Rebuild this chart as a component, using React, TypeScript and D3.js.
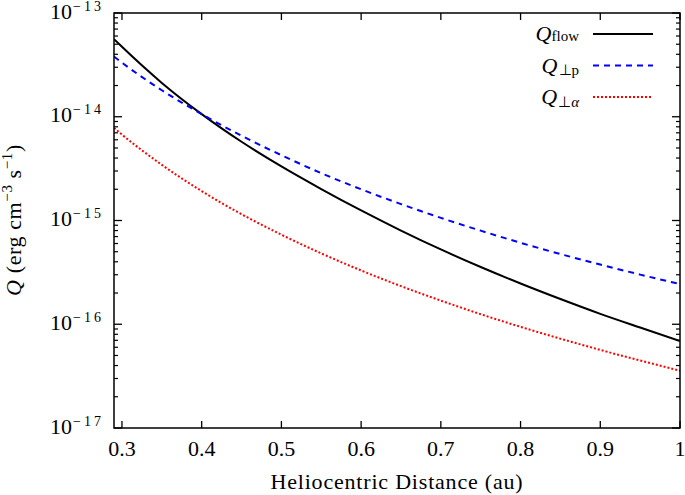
import React from "react";
import * as d3 from "d3";

const distances = [0.29, 0.3, 0.35, 0.4, 0.45, 0.5, 0.55, 0.6, 0.65, 0.7, 0.75, 0.8, 0.85, 0.9, 0.95, 1.0];
const qFlow = [5.6e-14, 4.72e-14, 2.12e-14, 1.06e-14, 5.74e-15, 3.32e-15, 2.01e-15, 1.25e-15, 8.0e-16, 5.26e-16, 3.56e-16, 2.47e-16, 1.75e-16, 1.26e-16, 9.3e-17, 6.9e-17];
const qPerpP = [3.8e-14, 3.32e-14, 1.8e-14, 1.06e-14, 6.56e-15, 4.26e-15, 2.86e-15, 2.0e-15, 1.44e-15, 1.06e-15, 7.98e-16, 6.1e-16, 4.75e-16, 3.76e-16, 3.01e-16, 2.44e-16];
const qPerpA = [7.8e-15, 6.73e-15, 3.44e-15, 1.92e-15, 1.15e-15, 7.3e-16, 4.82e-16, 3.3e-16, 2.33e-16, 1.69e-16, 1.25e-16, 9.44e-17, 7.26e-17, 5.66e-17, 4.47e-17, 3.57e-17];
const xTicks = [0.3, 0.4, 0.5, 0.6, 0.7, 0.8, 0.9, 1];
const yDecades = [-17, -16, -15, -14, -13];

const W = 685, H = 495;
const L = 114, R = 680, T = 13, B = 428;
const FONT = "'Liberation Serif', 'Times New Roman', serif";

export default function App() {
  const x = d3.scaleLinear().domain([0.29, 1]).range([L, R]);
  const y = d3.scaleLog().domain([1e-17, 1e-13]).range([B, T]);
  const mk = (vals: number[]) =>
    d3.line<number>().x((_, i) => x(distances[i])).y((v) => y(v)).curve(d3.curveMonotoneX)(vals) || "";

  const minor: number[] = [];
  for (let e = -17; e < -13; e++) for (let m = 2; m <= 9; m++) minor.push(m * Math.pow(10, e));

  const series = [
    { vals: qFlow, color: "#000000", dash: "none", sub: "flow", subIt: false, prefix: "" },
    { vals: qPerpP, color: "#0000ff", dash: "6,5", sub: "p", subIt: false, prefix: "⊥" },
    { vals: qPerpA, color: "#ff0000", dash: "2,2", sub: "α", subIt: true, prefix: "⊥" },
  ];

  return (
    <svg width={W} height={H} style={{ position: "absolute", left: 0, top: 0, background: "#fff" }} fontFamily={FONT}>
      <rect width={W} height={H} fill="#fff" />
      <defs>
        <clipPath id="plotclip">
          <rect x={L} y={T} width={R - L} height={B - T} />
        </clipPath>
      </defs>
      {xTicks.map((t) => (
        <g key={"x" + t}>
          <line x1={x(t)} x2={x(t)} y1={B} y2={B - 7} stroke="#000" strokeWidth={1.3} />
          <line x1={x(t)} x2={x(t)} y1={T} y2={T + 7} stroke="#000" strokeWidth={1.3} />
          <text x={x(t)} y={456} textAnchor="middle" fontSize={22}>{String(t)}</text>
        </g>
      ))}
      {yDecades.map((e) => {
        const v = Math.pow(10, e);
        return (
          <g key={"y" + e}>
            <line x1={L} x2={L + 8} y1={y(v)} y2={y(v)} stroke="#000" strokeWidth={1.3} />
            <line x1={R} x2={R - 8} y1={y(v)} y2={y(v)} stroke="#000" strokeWidth={1.3} />
            <text x={72} y={y(v) + 5.5} textAnchor="end" fontSize={22}>10</text>
            <text x={73} y={y(v) - 2.5} fontSize={14} textLength={28} lengthAdjust="spacing">{"−" + String(-e)}</text>
          </g>
        );
      })}
      {minor.map((v, i) => (
        <g key={"m" + i}>
          <line x1={L} x2={L + 4} y1={y(v)} y2={y(v)} stroke="#000" strokeWidth={1.2} />
          <line x1={R} x2={R - 4} y1={y(v)} y2={y(v)} stroke="#000" strokeWidth={1.2} />
        </g>
      ))}
      <g clipPath="url(#plotclip)">
        {series.map((s, i) => (
          <path key={i} d={mk(s.vals)} fill="none" stroke={s.color} strokeWidth={2} strokeDasharray={s.dash} />
        ))}
      </g>
      <rect x={L} y={T} width={R - L} height={B - T} fill="none" stroke="#000" strokeWidth={1.5} />
      {series.map((s, i) => {
        const ly = 34 + i * 31.5;
        return (
          <g key={"lg" + i}>
            <text x={579} y={ly + 7} textAnchor="end" fontSize={22}>
              <tspan fontStyle="italic">Q</tspan>
              <tspan fontSize={15} dx={1} dy={2.5}>{s.prefix}</tspan>
              <tspan fontSize={15} fontStyle={s.subIt ? "italic" : "normal"}>{s.sub}</tspan>
            </text>
            <line x1={593} x2={653} y1={ly} y2={ly} stroke={s.color} strokeWidth={2} strokeDasharray={s.dash} />
          </g>
        );
      })}
      <text x={(L + R) / 2} y={489} textAnchor="middle" fontSize={22} letterSpacing={0.8}>Heliocentric Distance (au)</text>
      <text transform={`translate(21, 220) rotate(-90)`} textAnchor="middle" fontSize={22} letterSpacing={0.6}>
        <tspan fontStyle="italic">Q</tspan>
        <tspan> (erg cm</tspan>
        <tspan fontSize={15} dy={-9}>−3</tspan>
        <tspan dy={9}> s</tspan>
        <tspan fontSize={15} dy={-9}>−1</tspan>
        <tspan dy={9}>)</tspan>
      </text>
    </svg>
  );
}
